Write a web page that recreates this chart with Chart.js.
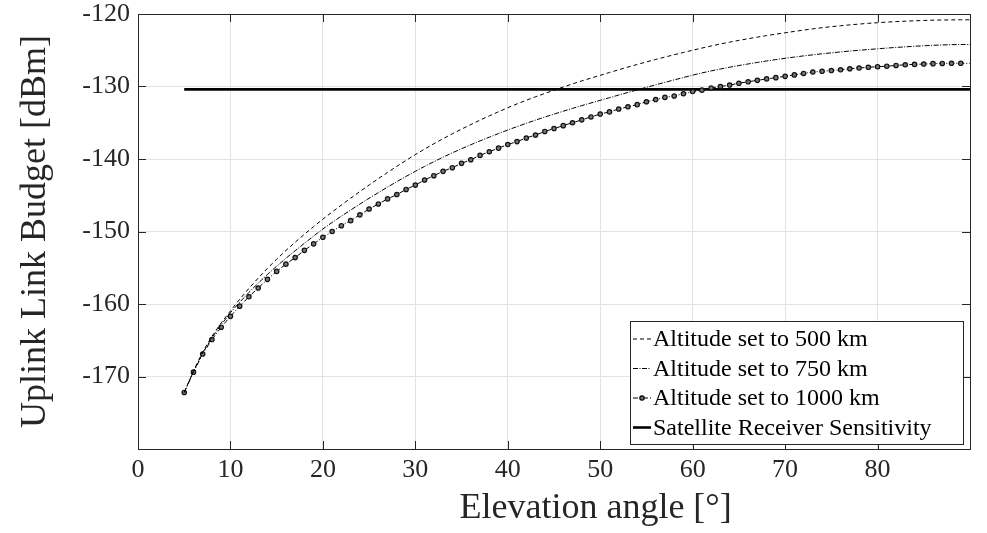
<!DOCTYPE html>
<html>
<head>
<meta charset="utf-8">
<script src="https://cdn.jsdelivr.net/npm/chart.js@4"></script>
<style>
  html, body { margin: 0; padding: 0; background: #fff; }
</style>
</head>
<body>
<canvas id="chart" width="987" height="533"></canvas>
<script>
// Elevation angles (deg)
const angles = [5,6,7,8,9,10,11,12,13,14,15,16,17,18,19,20,21,22,23,24,25,26,27,28,29,30,
  31,32,33,34,35,36,37,38,39,40,41,42,43,44,45,46,47,48,49,50,51,52,53,54,55,56,57,58,59,60,
  61,62,63,64,65,66,67,68,69,70,71,72,73,74,75,76,77,78,79,80,81,82,83,84,85,86,87,88,89,90];

// Uplink budget [dBm] per altitude
const alt500 = [-172.2,-169.25,-166.6,-164.45,-162.6,-160.95,-159.35,-157.85,-156.43,-155.09,
  -153.82,-152.62,-151.48,-150.38,-149.32,-148.3,-147.31,-146.35,-145.41,-144.49,
  -143.59,-142.71,-141.85,-141.01,-140.19,-139.39,-138.63,-137.9,-137.2,-136.53,
  -135.88,-135.25,-134.64,-134.05,-133.48,-132.93,-132.4,-131.9,-131.42,-130.96,
  -130.51,-130.07,-129.64,-129.23,-128.84,-128.46,-128.07,-127.69,-127.32,-126.96,
  -126.61,-126.27,-125.94,-125.62,-125.31,-125.0,-124.7,-124.41,-124.14,-123.88,
  -123.64,-123.41,-123.19,-122.98,-122.78,-122.6,-122.4,-122.22,-122.05,-121.89,
  -121.75,-121.62,-121.5,-121.39,-121.29,-121.2,-121.12,-121.05,-120.99,-120.94,
  -120.89,-120.85,-120.83,-120.81,-120.8,-120.8];

const alt750 = [-172.2,-169.3,-166.75,-164.65,-162.85,-161.2,-159.75,-158.4,-157.13,-155.93,
  -154.79,-153.7,-152.65,-151.63,-150.63,-149.65,-148.75,-147.88,-147.04,-146.22,
  -145.42,-144.64,-143.87,-143.12,-142.4,-141.7,-141.02,-140.37,-139.75,-139.15,
  -138.58,-138.03,-137.5,-136.99,-136.49,-136.0,-135.53,-135.08,-134.64,-134.22,
  -133.81,-133.41,-133.02,-132.64,-132.27,-131.91,-131.54,-131.18,-130.82,-130.46,
  -130.11,-129.77,-129.43,-129.09,-128.76,-128.43,-128.13,-127.85,-127.59,-127.34,
  -127.11,-126.89,-126.68,-126.48,-126.29,-126.11,-125.94,-125.78,-125.63,-125.49,
  -125.36,-125.23,-125.11,-125.0,-124.9,-124.8,-124.7,-124.61,-124.53,-124.45,
  -124.38,-124.32,-124.27,-124.23,-124.21,-124.2];

const alt1000 = [-172.2,-169.4,-166.9,-164.9,-163.2,-161.7,-160.3,-159.0,-157.8,-156.6,
  -155.5,-154.5,-153.6,-152.6,-151.7,-150.8,-150.0,-149.2,-148.5,-147.7,
  -146.9,-146.2,-145.5,-144.9,-144.2,-143.6,-142.9,-142.3,-141.7,-141.2,
  -140.6,-140.1,-139.5,-139.0,-138.5,-138.0,-137.6,-137.1,-136.7,-136.2,
  -135.8,-135.4,-135.0,-134.6,-134.2,-133.8,-133.5,-133.1,-132.8,-132.5,
  -132.1,-131.8,-131.5,-131.3,-131.0,-130.7,-130.5,-130.2,-130.0,-129.8,
  -129.55,-129.35,-129.15,-128.95,-128.78,-128.6,-128.4,-128.2,-128.0,-127.9,
  -127.8,-127.7,-127.55,-127.45,-127.35,-127.27,-127.2,-127.1,-127.0,-126.95,
  -126.9,-126.85,-126.82,-126.8,-126.8,-126.8];

// Satellite receiver sensitivity
const sensAngles = [5, 90];
const sensValues = [-130.4, -130.4];

const seriesLabels = ['Altitude set to 500 km', 'Altitude set to 750 km',
  'Altitude set to 1000 km', 'Satellite Receiver Sensitivity'];

const xTicks = [0,10,20,30,40,50,60,70,80];
const yTicks = [-170,-160,-150,-140,-130,-120];
const xTitle = 'Elevation angle [°]';

const FONT = '"Liberation Serif", "Times New Roman", serif';

function pts(xs, ys) { return xs.map((x, i) => ({ x: x, y: ys[i] })); }

// frame + inward ticks (matlab style box), x title sits a bit right of centre like the original
const framePlugin = {
  id: 'frame',
  afterDraw(chart) {
    const { ctx, chartArea: a, scales: { x, y } } = chart;
    ctx.save();
    ctx.strokeStyle = '#262626';
    ctx.lineWidth = 1;
    ctx.strokeRect(a.left + 0.5, a.top + 0.5, a.right - a.left, a.bottom - a.top);
    const len = 8;
    ctx.beginPath();
    xTicks.forEach(v => {
      if (v <= 0) return;
      const px = Math.round(x.getPixelForValue(v)) + 0.5;
      ctx.moveTo(px, a.bottom); ctx.lineTo(px, a.bottom - len);
      ctx.moveTo(px, a.top); ctx.lineTo(px, a.top + len);
    });
    yTicks.forEach(v => {
      if (v >= -120) return;
      const py = Math.round(y.getPixelForValue(v)) + 0.5;
      ctx.moveTo(a.left, py); ctx.lineTo(a.left + len, py);
      ctx.moveTo(a.right, py); ctx.lineTo(a.right - len, py);
    });
    ctx.stroke();

    ctx.fillStyle = '#262626';
    ctx.font = '36px ' + FONT;
    ctx.textAlign = 'center';
    ctx.textBaseline = 'middle';
    ctx.fillText(xTitle, x.getPixelForValue(49.5), 509);
    ctx.restore();
  }
};

// legend box inside the axes, lower right
const legendPlugin = {
  id: 'boxLegend',
  afterDraw(chart) {
    const { ctx } = chart;
    const bx = 630, by = 321, bw = 333, bh = 123;
    ctx.save();
    ctx.fillStyle = '#fff';
    ctx.fillRect(bx, by, bw, bh);
    ctx.strokeStyle = '#262626';
    ctx.lineWidth = 1;
    ctx.strokeRect(bx + 0.5, by + 0.5, bw, bh);
    ctx.font = '24px ' + FONT;
    ctx.textBaseline = 'middle';
    ctx.fillStyle = '#000';
    chart.data.datasets.forEach((ds, i) => {
      const cy = by + 18 + i * 29.5;
      ctx.save();
      ctx.strokeStyle = '#000';
      ctx.lineWidth = ds.borderWidth;
      ctx.setLineDash(ds.borderDash || []);
      ctx.beginPath();
      ctx.moveTo(bx + 3, cy); ctx.lineTo(bx + 21, cy);
      ctx.stroke();
      if (i === 2) {
        ctx.setLineDash([]);
        ctx.lineWidth = 1.2;
        ctx.fillStyle = '#777';
        ctx.beginPath();
        ctx.arc(bx + 12, cy, 2.2, 0, Math.PI * 2);
        ctx.fill(); ctx.stroke();
      }
      ctx.restore();
      ctx.fillText(ds.label, bx + 23, cy + 1);
    });
    ctx.restore();
  }
};

new Chart(document.getElementById('chart'), {
  type: 'line',
  data: {
    datasets: [
      {
        label: seriesLabels[0],
        data: pts(angles, alt500),
        borderColor: '#000', borderWidth: 1, borderDash: [4, 3],
        pointRadius: 0, tension: 0
      },
      {
        label: seriesLabels[1],
        data: pts(angles, alt750),
        borderColor: '#000', borderWidth: 1, borderDash: [5, 1.5, 1, 1.5],
        pointRadius: 0, tension: 0
      },
      {
        label: seriesLabels[2],
        data: pts(angles, alt1000),
        borderColor: '#000', borderWidth: 1, borderDash: [5, 2, 1, 2],
        pointRadius: ctx => (ctx.raw && ctx.raw.x >= 90 ? 0 : 2.2),
        pointBorderWidth: 1.2, pointBorderColor: '#111', pointBackgroundColor: '#777',
        tension: 0
      },
      {
        label: seriesLabels[3],
        data: pts(sensAngles, sensValues),
        borderColor: '#000', borderWidth: 2.6,
        pointRadius: 0, tension: 0
      }
    ]
  },
  options: {
    responsive: false,
    animation: false,
    layout: { padding: { top: 14, right: 17, left: 0, bottom: 0 } },
    plugins: { legend: { display: false }, tooltip: { enabled: false } },
    scales: {
      x: {
        type: 'linear', min: 0, max: 90,
        afterBuildTicks: s => { s.ticks = xTicks.concat([90]).map(v => ({ value: v })); },
        afterFit: s => { s.height = 84; s.paddingLeft = 0; s.paddingRight = 0; },
        ticks: {
          color: '#262626', padding: 6,
          font: { family: FONT, size: 26 },
          callback: v => (v >= 90 ? '' : v)
        },
        grid: { color: '#e3e3e3', lineWidth: 1, drawTicks: false },
        border: { display: false },
        title: { display: false }
      },
      y: {
        type: 'linear', min: -180, max: -120,
        afterBuildTicks: s => { s.ticks = [-180].concat(yTicks).map(v => ({ value: v })); },
        afterFit: s => { s.width = 138; s.paddingTop = 0; s.paddingBottom = 0; },
        ticks: {
          color: '#262626', padding: 8,
          font: { family: FONT, size: 26 },
          callback: v => (v <= -180 ? '' : '' + v)
        },
        grid: { color: '#e3e3e3', lineWidth: 1, drawTicks: false },
        border: { display: false },
        title: {
          display: true, text: 'Uplink Link Budget [dBm]', color: '#262626',
          font: { family: FONT, size: 36 }, padding: { top: 14, bottom: 0 }
        }
      }
    }
  },
  plugins: [framePlugin, legendPlugin]
});
</script>
</body>
</html>
